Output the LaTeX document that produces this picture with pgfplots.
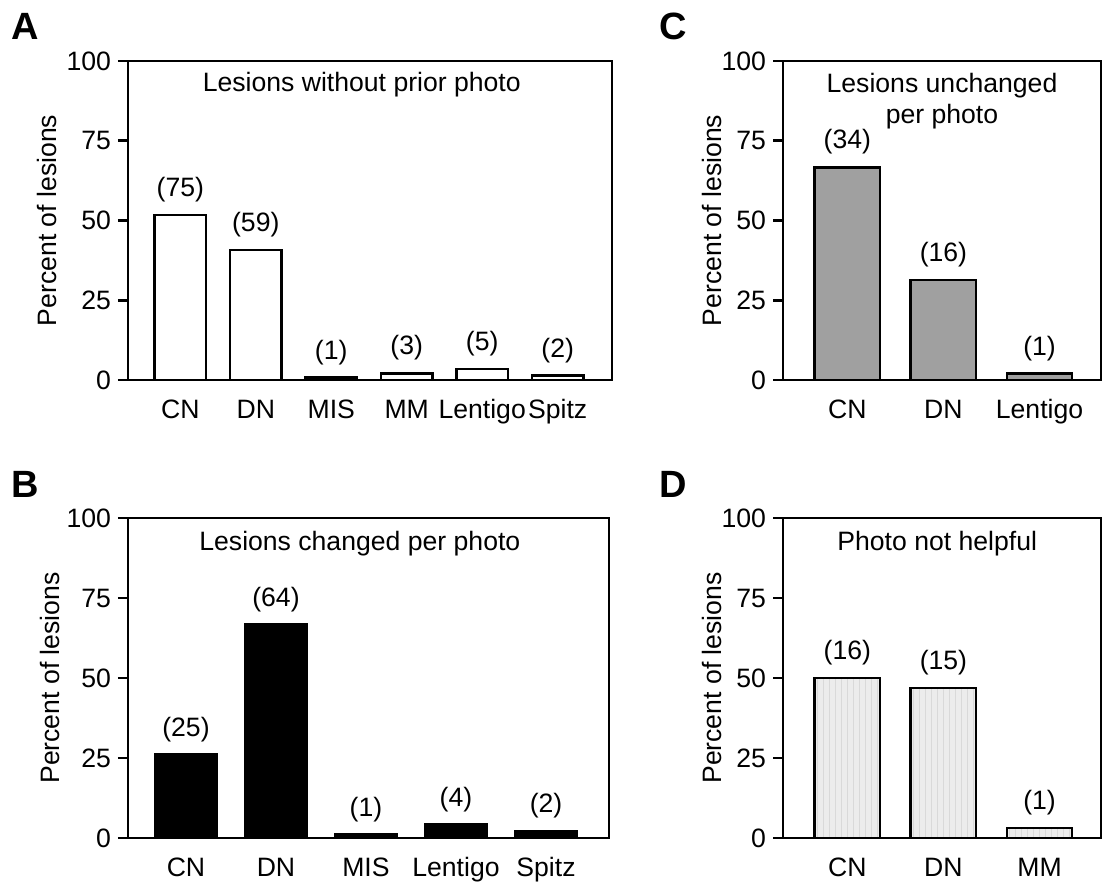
\documentclass[border=0pt]{standalone}
\usepackage{fontspec}
\setmainfont{Liberation Sans}
\usepackage{pgfplots}
\pgfplotsset{compat=1.18}
\usetikzlibrary{patterns}
\newcommand{\lbl}{\fontsize{13.3}{15.5}\selectfont}
\pgfplotsset{
  panel/.style={
    scale only axis,
    ybar,
    ymin=0, ymax=100,
    ytick={0,25,50,75,100},
    axis line style={line width=1.3pt},
    ytick pos=left,
    tick align=outside,
    major tick length=5pt,
    every tick/.style={line width=1.3pt, black},
    xtick=data,
    xtick style={draw=none},
    xticklabel shift=14.5pt,
    xticklabel style={anchor=base},
    tick label style={font=\lbl},
    /pgf/number format/assume math mode=true,
    label style={font=\lbl},
    ylabel={Percent of lesions},
    nodes near coords,
    point meta=explicit symbolic,
    every node near coord/.append style={font=\lbl, yshift=2.5pt, black},
    bar width=0.68,
  },
  bars/.style={draw=black, line width=1.3pt},
}
\begin{document}
\begin{tikzpicture}
\useasboundingbox (0,0) rectangle (551.5pt,441pt);
% Panel A
\begin{axis}[panel, at={(64pt,251pt)}, anchor=south west,
  width=242pt, height=159.5pt, xmin=-0.693, xmax=5.72,
  xticklabels={CN,DN,MIS,MM,Lentigo,Spitz},
  ylabel style={at={(axis description cs:-0.167,0.5)}, anchor=center}]
\addplot[bars, fill=white] table[meta=lab] {
x y lab
0 51.7 (75)
1 40.7 (59)
2 0.69 (1)
3 2.07 (3)
4 3.45 (5)
5 1.38 (2)
};
\node[font=\lbl] at (axis description cs:0.483,0.925) {Lesions without prior photo};
\end{axis}
% Panel B
\begin{axis}[panel, at={(64pt,22pt)}, anchor=south west,
  width=240.5pt, height=160pt, xmin=-0.644, xmax=4.7,
  xticklabels={CN,DN,MIS,Lentigo,Spitz},
  ylabel style={at={(axis description cs:-0.162,0.5)}, anchor=center}]
\addplot[bars, fill=black] table[meta=lab] {
x y lab
0 26.0 (25)
1 66.7 (64)
2 1.04 (1)
3 4.17 (4)
4 2.08 (2)
};
\node[font=\lbl] at (axis description cs:0.482,0.92) {Lesions changed per photo};
\end{axis}
% Panel C
\begin{axis}[panel, at={(391.5pt,251pt)}, anchor=south west,
  width=159pt, height=159.5pt, xmin=-0.67, xmax=2.64,
  xticklabels={CN,DN,Lentigo},
  ylabel style={at={(axis description cs:-0.222,0.5)}, anchor=center}]
\addplot[bars, fill={rgb,255:red,160;green,160;blue,160}] table[meta=lab] {
x y lab
0 66.7 (34)
1 31.4 (16)
2 1.96 (1)
};
\node[font=\lbl, align=center] at (axis description cs:0.5,0.875) {Lesions unchanged\\per photo};
\end{axis}
% Panel D
\begin{axis}[panel, at={(391.5pt,22pt)}, anchor=south west,
  width=159pt, height=160pt, xmin=-0.67, xmax=2.64,
  xticklabels={CN,DN,MM},
  ylabel style={at={(axis description cs:-0.222,0.5)}, anchor=center}]
\addplot[bars, fill={rgb,255:red,236;green,236;blue,236},
  postaction={pattern=vertical lines, pattern color=gray!30}] table[meta=lab] {
x y lab
0 50.0 (16)
1 46.9 (15)
2 3.1 (1)
};
\node[font=\lbl] at (axis description cs:0.485,0.92) {Photo not helpful};
\end{axis}
% panel letters
\node[font=\bfseries\fontsize{19}{21}\selectfont] at (12.5pt,428pt) {A};
\node[font=\bfseries\fontsize{19}{21}\selectfont] at (12.5pt,199pt) {B};
\node[font=\bfseries\fontsize{19}{21}\selectfont] at (336.5pt,428pt) {C};
\node[font=\bfseries\fontsize{19}{21}\selectfont] at (336.5pt,199pt) {D};
\end{tikzpicture}
\end{document}
